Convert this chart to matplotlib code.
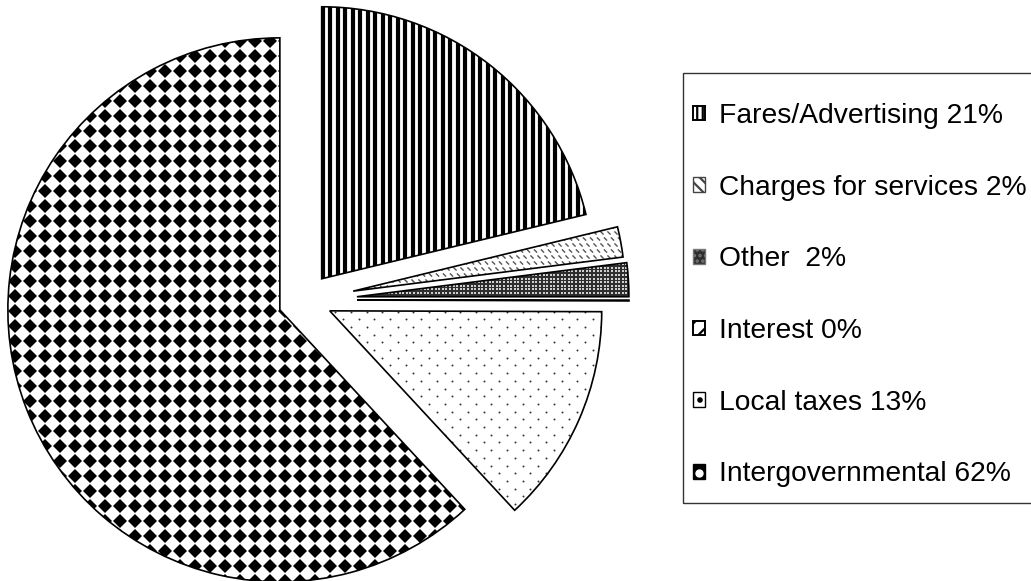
import numpy as np
import matplotlib
matplotlib.use("Agg")
import matplotlib.pyplot as plt
from matplotlib.collections import LineCollection, PolyCollection
from matplotlib.patches import Patch, Rectangle
from matplotlib.lines import Line2D
from matplotlib.legend_handler import HandlerTuple

plt.rcParams['font.family'] = ['Liberation Sans', 'DejaVu Sans']
plt.rcParams['hatch.linewidth'] = 1.6

labels = ["Fares/Advertising 21%", "Charges for services 2%", "Other  2%",
          "Interest 0%", "Local taxes 13%", "Intergovernmental 62%"]
shares = [21.2, 1.8, 2.0, 0.05, 13.05, 61.9]
explode = [27, 49, 52, 52, 27, 27]

W, H = 1031, 581
fig = plt.figure(figsize=(W / 100, H / 100), dpi=100)
ax = fig.add_axes([0, 0, 1, 1])

# axes data units == pixels, so pattern spacing is easy to reason about
wedges, _ = ax.pie(shares, explode=explode, radius=272, center=(305, 281),
                   startangle=90, counterclock=False,
                   wedgeprops=dict(facecolor='white', edgecolor='none', zorder=1))
outline, _ = ax.pie(shares, explode=explode, radius=272, center=(305, 281),
                    startangle=90, counterclock=False,
                    wedgeprops=dict(fill=False, edgecolor='black', linewidth=1.2, zorder=4))
ax.set_xlim(0, W)
ax.set_ylim(0, H)
ax.set_aspect('equal')
ax.axis('off')


def clip_to(artist, wedge):
    artist.set_clip_path(wedge)
    artist.set_zorder(2)
    ax.add_collection(artist)


# Fares: vertical stripes
xs = np.arange(0, W, 7.5)
segs = [[(x, 0), (x, H)] for x in xs]
clip_to(LineCollection(segs, colors='black', linewidths=3.0), wedges[0])

# Charges: short backslash dashes
pts = []
for j, y in enumerate(np.arange(0, H, 6.0)):
    off = 3.5 if j % 2 else 0
    for x in np.arange(off, W, 7.0):
        pts.append([(x - 1.6, y + 1.6), (x + 1.6, y - 1.6)])
clip_to(LineCollection(pts, colors='#555555', linewidths=1.0), wedges[1])

# Other: dark fill with small light dots
wedges[2].set_facecolor('#2e2e2e')
gx, gy = np.meshgrid(np.arange(0, W, 3.6), np.arange(0, H, 3.6))
sc = ax.scatter(gx.ravel(), gy.ravel(), s=0.8, c='#cfcfcf', marker='s', linewidths=0)
sc.set_clip_path(wedges[2])
sc.set_zorder(2)

# Local taxes: sparse staggered dots
dx, dy = [], []
for j, y in enumerate(np.arange(0, H, 7.7)):
    off = 7.8 if j % 2 else 0
    for x in np.arange(off, W, 15.6):
        dx.append(x)
        dy.append(y)
sc2 = ax.scatter(dx, dy, s=2.0, c='#333333', linewidths=0)
sc2.set_clip_path(wedges[4])
sc2.set_zorder(2)

# Intergovernmental: black diamond grid
h = 7.0
diamonds = []
for y in np.arange(0, H + 15, 15.0):
    for x in np.arange(0, W, 15.0):
        diamonds.append([(x - h, y), (x, y + h), (x + h, y), (x, y - h)])
clip_to(PolyCollection(diamonds, facecolors='black', edgecolors='none'), wedges[5])

# legend
handles = [
    Patch(facecolor='white', edgecolor='black', hatch='|||', linewidth=1.4),
    Patch(facecolor='white', edgecolor='#444444', hatch='\\\\\\', linewidth=1.0),
    Patch(facecolor='#2e2e2e', edgecolor='#777777', hatch='...', linewidth=1.0),
    Patch(facecolor='white', edgecolor='black', hatch='//', linewidth=1.4),
    Patch(facecolor='white', edgecolor='black', hatch='.', linewidth=1.0),
    (Patch(facecolor='black', edgecolor='black', linewidth=1.0),
     Line2D([], [], marker='o', color='white', markersize=5, linestyle='none')),
]
fig.legend(handles, labels, loc='upper left', bbox_to_anchor=(693 / W, 1 - 103 / H),
           frameon=False, fontsize=20.3, handlelength=0.43, handleheight=0.43,
           handletextpad=0.48, labelspacing=1.62, borderpad=0, borderaxespad=0,
           handler_map={tuple: HandlerTuple(ndivide=1)})
fig.add_artist(Rectangle((683 / W, 1 - 503 / H), 0.5, (503 - 73) / H,
                         transform=fig.transFigure, fill=False,
                         edgecolor='#333333', linewidth=1.0))

fig.savefig('out.png', dpi=100)
